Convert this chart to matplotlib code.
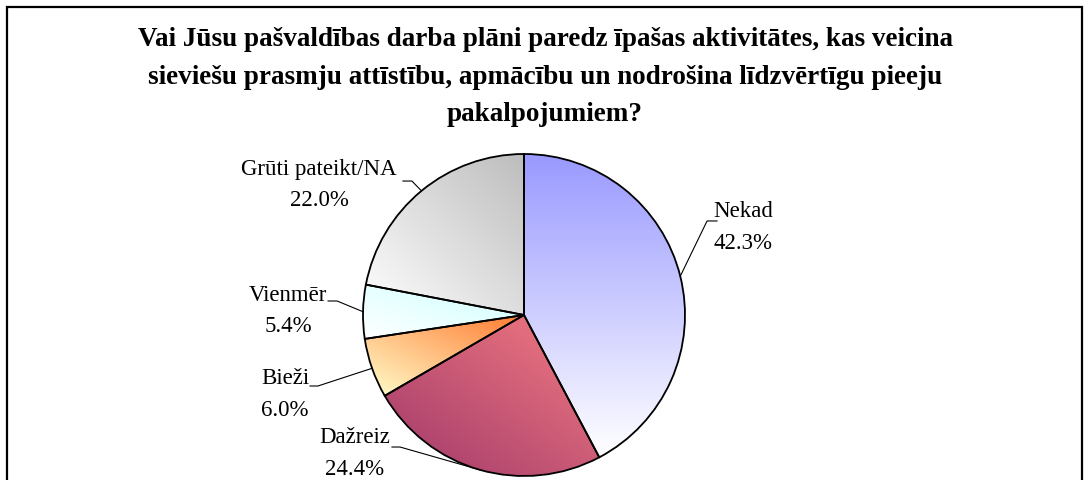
import numpy as np
import matplotlib
matplotlib.use('Agg')
import matplotlib.pyplot as plt
from matplotlib.colors import to_rgb
from matplotlib.patches import Rectangle

# data
categories = ['Nekad', 'Dažreiz', 'Bieži', 'Vienmēr', 'Grūti pateikt/NA']
shares = [42.3, 24.4, 6.0, 5.4, 22.0]

title = ('Vai Jūsu pašvaldības darba plāni paredz īpašas aktivitātes, kas veicina\n'
         'sieviešu prasmju attīstību, apmācību un nodrošina līdzvērtīgu pieeju\n'
         'pakalpojumiem?')

# gradient end colours per slice (dark end, light end) and direction
grad_colors = [('#9999FF', '#FFFFFF'), ('#F47C82', '#A0386A'), ('#FF7A30', '#FFFFCC'),
               ('#CCFFFF', '#FFFFFF'), ('#BDBDBD', '#FFFFFF')]
grad_dirs = ['vertical', 'diag', 'diag', 'diag', 'diag']

# label placement (pie radius units): text centre, elbow of leader, leader end
label_pos = [(1.36, 0.55), (-1.05, -0.855), (-1.485, -0.488), (-1.466, 0.03), (-1.273, 0.815)]
elbows = [(1.137, 0.584), (-0.770, -0.820), (-1.28, -0.441), (-1.161, 0.087), (-0.696, 0.832)]
line_ends = [(1.199, 0.584), (-0.820, -0.820), (-1.329, -0.441), (-1.217, 0.087), (-0.752, 0.832)]

plt.rcParams['font.family'] = ['Liberation Serif', 'DejaVu Serif']

W, H = 1089, 481
fig = plt.figure(figsize=(W / 100, H / 100), dpi=100)

# frame around the chart (bottom edge falls outside the picture)
fig.patches.append(Rectangle((7 / W, -0.05), (1082 - 7) / W, (H - 8) / H + 0.05,
                             transform=fig.transFigure, fill=False, lw=1.6, ec='black'))

fig.text(545 / W, 1 - 27 / H, title, ha='center', va='top', fontsize=19.5,
         fontweight='bold', linespacing=1.66)

cx, cy, r = 524, 316, 161
ax = fig.add_axes([(cx - r) / W, (H - cy - r) / H, 2 * r / W, 2 * r / H])
wedges, _ = ax.pie(shares, startangle=90, counterclock=False, radius=1,
                   wedgeprops=dict(edgecolor='black', linewidth=1.3, facecolor='none'))
ax.set_xlim(-1, 1)
ax.set_ylim(-1, 1)
ax.axis('off')

for w, (c0, c1), d in zip(wedges, grad_colors, grad_dirs):
    th = np.radians(np.linspace(w.theta1, w.theta2, 60))
    xs = np.concatenate([[0], np.cos(th)])
    ys = np.concatenate([[0], np.sin(th)])
    x0, x1, y0, y1 = xs.min(), xs.max(), ys.min(), ys.max()
    gx, gy = np.meshgrid(np.linspace(0, 1, 200), np.linspace(0, 1, 200))
    if d == 'vertical':
        t = 1 - gy
    else:
        t = 1 - (gx + gy) / 2
    a, b = np.array(to_rgb(c0)), np.array(to_rgb(c1))
    img = a[None, None, :] * (1 - t[..., None]) + b[None, None, :] * t[..., None]
    im = ax.imshow(img, extent=(x0, x1, y0, y1), origin='lower', interpolation='bilinear',
                   zorder=0, aspect='auto')
    im.set_clip_path(w)
    w.set_zorder(2)

ax.set_xlim(-1, 1)
ax.set_ylim(-1, 1)

for w, name, val, pos, elb, end in zip(wedges, categories, shares, label_pos, elbows, line_ends):
    mid = np.radians((w.theta1 + w.theta2) / 2)
    px, py = np.cos(mid), np.sin(mid)
    ax.plot([px, elb[0], end[0]], [py, elb[1], end[1]], color='black', lw=0.8,
            clip_on=False, zorder=3)
    ax.text(pos[0], pos[1], f'{name}\n{val:.1f}%', ha='center', va='center',
            fontsize=16.5, linespacing=1.65, clip_on=False)

fig.savefig('out.png', dpi=100)
